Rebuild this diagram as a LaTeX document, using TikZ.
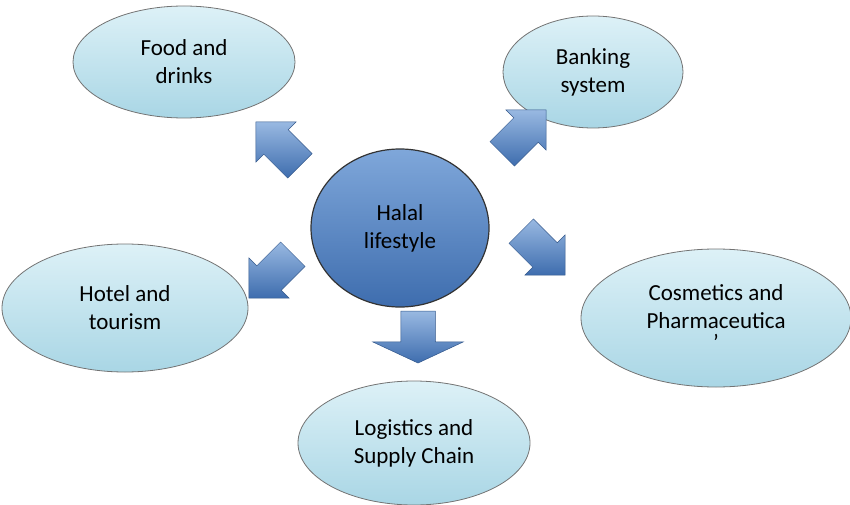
\documentclass[tikz,border=0pt]{standalone}
\usepackage{fontspec}
\setmainfont{Carlito}
\usetikzlibrary{shapes.geometric,shapes.arrows,shadings}
\definecolor{lite}{HTML}{DDF1F7}
\definecolor{lited}{HTML}{A9D6E5}
\definecolor{blu}{HTML}{7FA7DA}
\definecolor{blud}{HTML}{3E6DAE}
\tikzset{
 leaf/.style={ellipse,draw=black!55,line width=0.8pt,top color=lite,bottom color=lited,font=\fontsize{23}{28}\selectfont,align=center,inner sep=0pt},
 hub/.style={ellipse,draw=black!80,line width=1.2pt,top color=blu,bottom color=blud,font=\fontsize{23}{28}\selectfont,align=center,inner sep=0pt},
 arr/.style={single arrow,draw=blud!80!black,line width=0.5pt,top color=blu!80,bottom color=blud,minimum height=62pt,single arrow head extend=11pt,single arrow tip angle=90,inner xsep=0pt,inner ysep=17pt}
}
\begin{document}
\begin{tikzpicture}[x=1pt,y=-1pt]
\useasboundingbox (0,0) rectangle (850,505);
\node[leaf,minimum width=222pt,minimum height=112pt] (food) at (184,62) {Food and\\drinks};
\node[leaf,minimum width=180pt,minimum height=112pt] (bank) at (593,72) {Banking\\system};
\node[leaf,minimum width=246pt,minimum height=128pt] (hotel) at (125,308) {Hotel and\\tourism};
\node[leaf,minimum width=270pt,minimum height=138pt] (cos) at (716,318) {Cosmetics and\\Pharmaceutica\\[-6pt]{'}};
\node[leaf,minimum width=232pt,minimum height=124pt] (log) at (414,443) {Logistics and\\Supply Chain};
\node[hub,minimum width=178pt,minimum height=158pt] (hub) at (400,228) {Halal\\lifestyle};
\node[arr,rotate=135] (a1) at (284,150) {};
\node[arr,rotate=45] (a2) at (518,138) {};
\node[arr,rotate=-45] (a3) at (537,247) {};
\node[arr,rotate=-135] (a4) at (277,270) {};
\node[arr,rotate=-90,minimum height=52pt,inner ysep=17pt,single arrow head extend=28pt,single arrow tip angle=130] (a5) at (418,333) {};
\end{tikzpicture}
\end{document}
